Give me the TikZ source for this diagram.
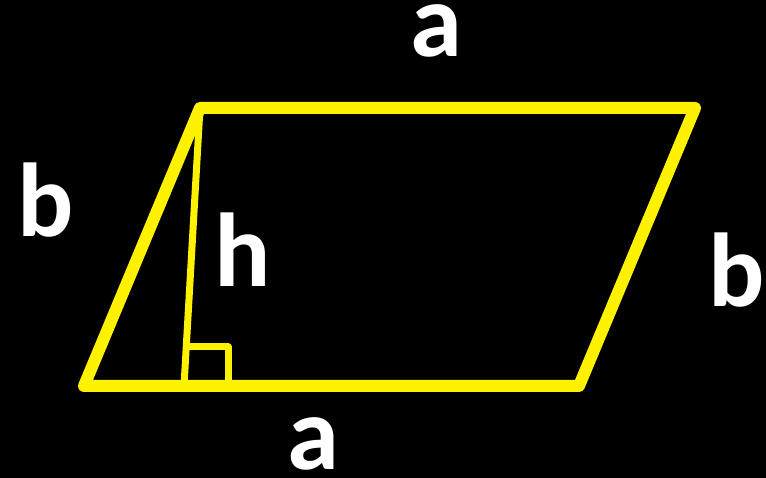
\documentclass[tikz,border=0pt]{standalone}
\usepackage{fontspec}
\setmainfont{Carlito}
\begin{document}
\begin{tikzpicture}[x=1pt,y=1pt,
  edge/.style={draw=yellow, line width=12pt, line join=round, line cap=round},
  thin/.style={draw=yellow, line width=7pt, line join=round},
  lbl/.style={text=white, font=\fontsize{105}{105}\selectfont\bfseries, inner sep=0pt, anchor=base}]
\fill[black] (0,0) rectangle (766,478);
\useasboundingbox (0,0) rectangle (766,478);
\coordinate (A) at (84,92);
\coordinate (B) at (579,92);
\coordinate (C) at (695,370);
\coordinate (D) at (200,370);
\coordinate (F) at (184,92);
\coordinate (M1) at (186,131);
\coordinate (M2) at (228,131);
\coordinate (M3) at (228,92);
\draw[thin] (D) -- (F);
\draw[thin] (M1) -- (M2) -- (M3);
\draw[edge] (A) -- (B) -- (C) -- (D) -- cycle;
\node[lbl] (atop) at (436,421) {a};
\node[lbl] (bleft) at (45.5,241) {b};
\node[lbl] (h) at (242.5,191) {h};
\node[lbl] (bright) at (736.5,171) {b};
\node[lbl] (abot) at (313,8) {a};
\end{tikzpicture}
\end{document}
